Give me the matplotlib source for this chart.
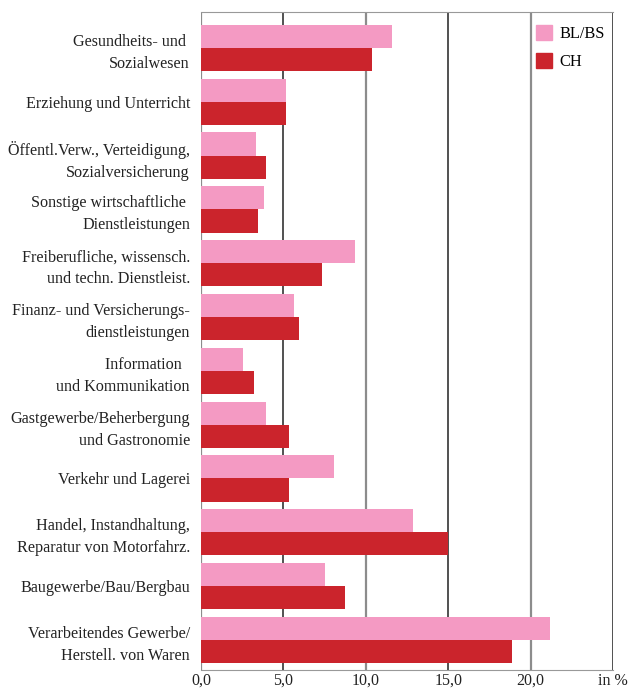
import numpy as np
import matplotlib.pyplot as plt
from matplotlib.patches import Patch

# Branchen (von oben nach unten)
branchen = [
    "Gesundheits- und \nSozialwesen",
    "Erziehung und Unterricht",
    "Öffentl.Verw., Verteidigung,\nSozialversicherung",
    "Sonstige wirtschaftliche \nDienstleistungen",
    "Freiberufliche, wissensch.\nund techn. Dienstleist.",
    "Finanz- und Versicherungs-\ndienstleistungen",
    "Information  \nund Kommunikation",
    "Gastgewerbe/Beherbergung\nund Gastronomie",
    "Verkehr und Lagerei",
    "Handel, Instandhaltung,\nReparatur von Motorfahrz.",
    "Baugewerbe/Bau/Bergbau",
    "Verarbeitendes Gewerbe/\nHerstell. von Waren",
]
bl_bs = [11.6, 5.15, 3.35, 3.8, 9.35, 5.65, 2.55, 3.95, 8.05, 12.85, 7.5, 21.15]
ch = [10.4, 5.15, 3.95, 3.45, 7.35, 5.95, 3.2, 5.35, 5.35, 15.0, 8.75, 18.85]
xticks = [0, 5, 10, 15, 20, 25]
xticklabels = ["0,0", "5,0", "10,0", "15,0", "20,0", "in %"]

plt.rcParams["font.family"] = ["Liberation Serif", "DejaVu Serif"]
pink = "#F49AC3"
rot = "#CB242C"

fig = plt.figure(figsize=(6.42, 6.92), dpi=100)
ax = fig.add_axes([0.3131, 0.0318, 0.6417, 0.9509])

y = np.arange(len(branchen))
h = 0.43
ax.barh(y - h / 2, bl_bs, height=h, color=pink, zorder=3)
ax.barh(y + h / 2, ch, height=h, color=rot, zorder=3)

ax.set_xlim(0, 25)
ax.set_ylim(11.56, -0.67)

# Gitterlinien: abwechselnd grau / schwarz
for i, xv in enumerate(xticks):
    col = "#8c8c8c" if i % 2 == 0 else "#222222"
    lw = 1.6 if i % 2 == 0 else 1.1
    ax.axvline(xv, color=col, linewidth=lw, zorder=2)

for s in ["left", "right"]:
    ax.spines[s].set_visible(False)
for s in ["top", "bottom"]:
    ax.spines[s].set_linestyle((0, (1, 1)))
    ax.spines[s].set_color("#999999")
    ax.spines[s].set_linewidth(0.8)

ax.set_yticks(y)
ax.set_yticklabels(branchen, fontsize=11.6, color="#222222", linespacing=1.5)
ax.set_xticks(xticks)
ax.set_xticklabels(xticklabels, fontsize=11.5, color="#222222")
ax.tick_params(length=0)
ax.tick_params(axis="x", pad=2)
ax.tick_params(axis="y", pad=8)

handles = [Patch(color=pink, label="BL/BS"), Patch(color=rot, label="CH")]
ax.legend(handles=handles, loc="upper right", frameon=False, fontsize=11.8,
          handlelength=1.0, handleheight=1.0, bbox_to_anchor=(1.012, 1.0),
          labelspacing=0.68, handletextpad=0.45, borderaxespad=0.4)

fig.savefig("out.png", dpi=100)
